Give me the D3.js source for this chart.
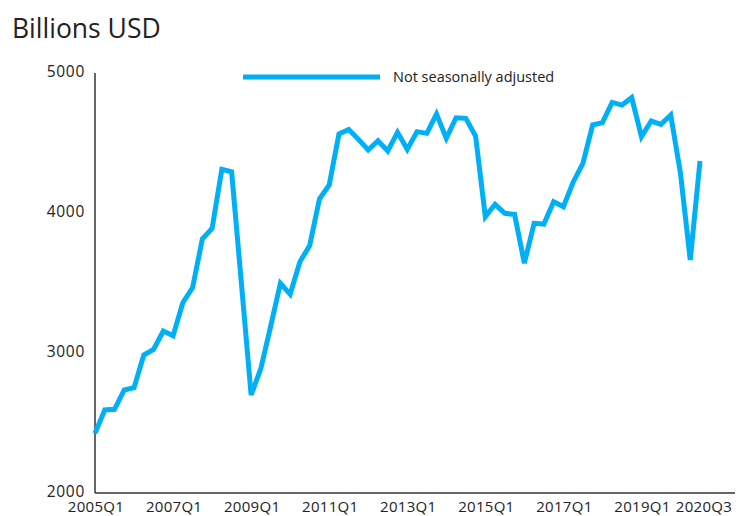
<!DOCTYPE html>
<html>
<head>
<meta charset="utf-8">
<script src="https://cdn.jsdelivr.net/npm/d3@7"></script>
<style>
  body { margin: 0; background: #fff; }
  svg { font-family: "Open Sans", sans-serif; }
</style>
</head>
<body>
<svg id="chart" width="744" height="516"></svg>
<script>
// quarters 2005Q1 .. 2020Q3
const quarters = [];
for (let y = 2005; y <= 2020; y++) {
    for (let q = 1; q <= 4; q++) {
        if (y === 2020 && q > 3) break;
        quarters.push(y + "Q" + q);
    }
}

const values = [
    2426, 2593, 2598, 2736, 2752, 2986, 3026, 3157, 3124, 3359,
    3467, 3814, 3890, 4312, 4295, 3500, 2700, 2890, 3190, 3498,
    3419, 3652, 3767, 4100, 4200, 4564, 4597, 4526, 4450, 4516,
    4443, 4576, 4455, 4581, 4569, 4707, 4533, 4680, 4676, 4550,
    3974, 4062, 3998, 3990, 3641, 3926, 3921, 4081, 4045, 4220,
    4355, 4629, 4645, 4790, 4771, 4824, 4545, 4657, 4633, 4700,
    4283, 3664, 4371
];

const xTickLabels = ["2005Q1", "2007Q1", "2009Q1", "2011Q1", "2013Q1", "2015Q1", "2017Q1", "2019Q1", "2020Q3"];
const yTicks = [2000, 3000, 4000, 5000];
const seriesName = "Not seasonally adjusted";
const lineColor = "#00b0f6";

const svg = d3.select("#chart");

// set up plot area
const plotLeft = 95, plotTop = 73, plotBottom = 493, axisEnd = 735;
const lastX = 700;

const xScale = d3.scalePoint()
    .domain(quarters)
    .range([plotLeft, lastX]);

const yScale = d3.scaleLinear()
    .domain([2000, 5000])
    .range([plotBottom, plotTop]);

// title
svg.append("text")
    .attr("x", 12)
    .attr("y", 38)
    .style("font-size", "26.5px")
    .attr("fill", "#222")
    .text("Billions USD");

// axes
svg.append("line")
    .attr("x1", plotLeft).attr("x2", plotLeft)
    .attr("y1", plotTop).attr("y2", plotBottom)
    .attr("stroke", "#333").attr("stroke-width", 1.5);

svg.append("line")
    .attr("x1", plotLeft).attr("x2", axisEnd)
    .attr("y1", plotBottom).attr("y2", plotBottom)
    .attr("stroke", "#333").attr("stroke-width", 1.5);

svg.selectAll(".ytick")
    .data(yTicks)
    .enter().append("text")
    .attr("class", "ytick")
    .attr("x", plotLeft - 10)
    .attr("y", d => yScale(d))
    .attr("dy", "0.28em")
    .attr("text-anchor", "end")
    .style("font-size", "15.5px")
    .style("letter-spacing", "0.7px")
    .attr("fill", "#222")
    .text(d => d);

svg.selectAll(".xtick")
    .data(xTickLabels)
    .enter().append("text")
    .attr("class", "xtick")
    .attr("x", (d, i) => xScale(d) + (i === xTickLabels.length - 1 ? 4 : 1))
    .attr("y", plotBottom + 19)
    .attr("text-anchor", "middle")
    .style("font-size", "15px")
    .style("letter-spacing", "0.3px")
    .attr("fill", "#222")
    .text(d => d);

// the series line
const line = d3.line()
    .x((d, i) => xScale(quarters[i]))
    .y(d => yScale(d));

svg.append("path")
    .datum(values)
    .attr("d", line)
    .attr("fill", "none")
    .attr("stroke", lineColor)
    .attr("stroke-width", 5)
    .attr("stroke-linejoin", "miter");

// legend
svg.append("line")
    .attr("x1", 243).attr("x2", 380)
    .attr("y1", 77).attr("y2", 77)
    .attr("stroke", lineColor)
    .attr("stroke-width", 5);

svg.append("text")
    .attr("x", 393)
    .attr("y", 82)
    .style("font-size", "14.5px")
    .attr("fill", "#222")
    .text(seriesName);
</script>
</body>
</html>
